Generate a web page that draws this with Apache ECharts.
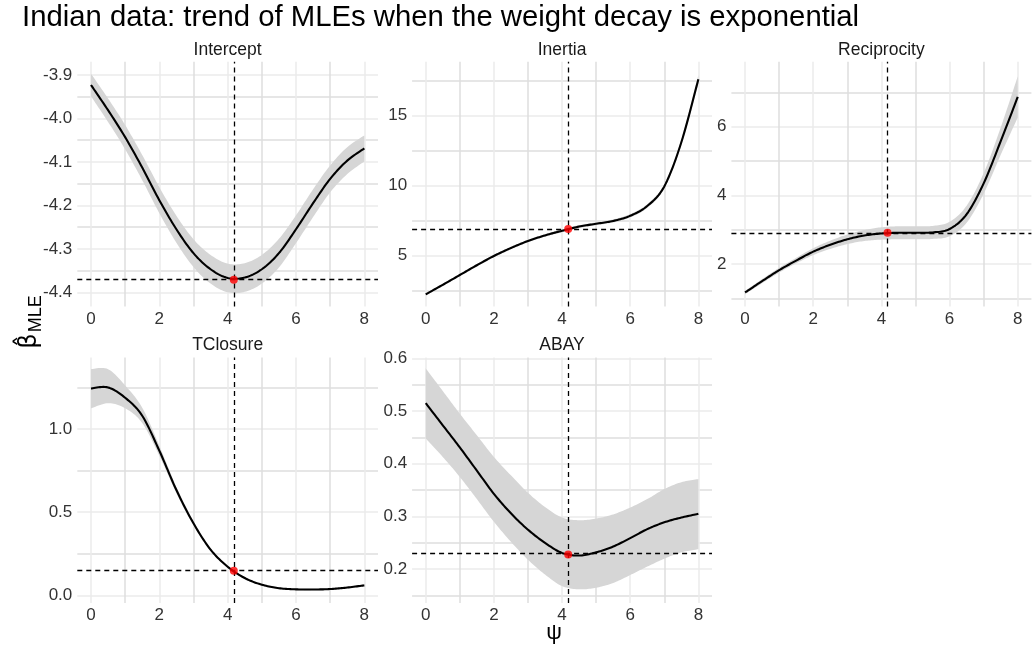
<!DOCTYPE html>
<html><head><meta charset="utf-8">
<script src="https://cdn.jsdelivr.net/npm/echarts@6/dist/echarts.min.js"></script>
<style>html,body{margin:0;padding:0;background:#fff}#c{width:1032px;height:646px}</style>
</head><body><div id="c"></div>
<script>
// ---------- data ----------
const titleText = 'Indian data: trend of MLEs when the weight decay is exponential';
const panelNames = ['Intercept', 'Inertia', 'Reciprocity', 'TClosure', 'ABAY'];
const psi = [0, 0.5, 1, 1.5, 2, 2.5, 3, 3.5, 4, 4.5, 5, 5.5, 6, 6.5, 7, 7.5, 8];
const psiHat = 4.18;
const mleHat = [-4.371, 6.91, 2.91, 0.148, 0.228];

const interceptFit   = [-3.923, -3.981, -4.043, -4.113, -4.188, -4.255, -4.310, -4.347, -4.367, -4.366, -4.347, -4.310, -4.255, -4.195, -4.139, -4.097, -4.069];
const interceptLower = [-3.949, -4.008, -4.071, -4.142, -4.218, -4.286, -4.342, -4.380, -4.400, -4.399, -4.380, -4.343, -4.287, -4.227, -4.170, -4.128, -4.099];
const interceptUpper = [-3.897, -3.954, -4.015, -4.084, -4.158, -4.224, -4.278, -4.314, -4.334, -4.333, -4.314, -4.277, -4.223, -4.163, -4.108, -4.066, -4.039];

const inertiaFit   = [2.24, 2.92, 3.62, 4.32, 4.98, 5.55, 6.05, 6.45, 6.78, 7.08, 7.28, 7.48, 7.85, 8.55, 9.95, 13.1, 17.6];
const inertiaLower = [2.16, 2.84, 3.54, 4.23, 4.89, 5.46, 5.96, 6.36, 6.68, 6.98, 7.18, 7.37, 7.73, 8.42, 9.80, 12.9, 17.3];
const inertiaUpper = [2.32, 3.00, 3.70, 4.41, 5.07, 5.64, 6.14, 6.54, 6.88, 7.18, 7.38, 7.59, 7.97, 8.68, 10.10, 13.3, 17.9];

const reciprocityFit   = [1.17, 1.50, 1.82, 2.10, 2.36, 2.56, 2.72, 2.83, 2.89, 2.91, 2.91, 2.92, 3.02, 3.45, 4.35, 5.58, 6.87];
const reciprocityLower = [1.12, 1.44, 1.75, 2.02, 2.26, 2.44, 2.58, 2.67, 2.71, 2.72, 2.72, 2.73, 2.81, 3.20, 4.05, 5.18, 6.27];
const reciprocityUpper = [1.22, 1.56, 1.89, 2.18, 2.46, 2.68, 2.86, 2.99, 3.07, 3.10, 3.10, 3.11, 3.23, 3.70, 4.65, 5.98, 7.47];

const tclosureFit   = [1.244, 1.250, 1.188, 1.080, 0.870, 0.633, 0.433, 0.275, 0.172, 0.104, 0.064, 0.043, 0.036, 0.035, 0.038, 0.047, 0.060];
const tclosureLower = [1.124, 1.155, 1.125, 1.036, 0.840, 0.615, 0.421, 0.267, 0.166, 0.099, 0.059, 0.038, 0.031, 0.030, 0.033, 0.042, 0.055];
const tclosureUpper = [1.360, 1.360, 1.262, 1.128, 0.900, 0.652, 0.445, 0.283, 0.178, 0.109, 0.069, 0.048, 0.041, 0.040, 0.043, 0.052, 0.065];

const abayFit   = [0.515, 0.473, 0.431, 0.387, 0.343, 0.306, 0.275, 0.250, 0.231, 0.226, 0.232, 0.243, 0.259, 0.276, 0.289, 0.298, 0.305];
const abayLower = [0.448, 0.413, 0.375, 0.333, 0.290, 0.252, 0.218, 0.190, 0.168, 0.162, 0.165, 0.174, 0.189, 0.205, 0.220, 0.232, 0.238];
const abayUpper = [0.581, 0.538, 0.495, 0.454, 0.413, 0.378, 0.345, 0.318, 0.298, 0.293, 0.296, 0.304, 0.317, 0.333, 0.352, 0.365, 0.371];

const xMajorTicks = [0, 2, 4, 6, 8];
const xMinorTicks = [1, 3, 5, 7];
const yMajorTicks = [
  [-4.4, -4.3, -4.2, -4.1, -4.0, -3.9],
  [5, 10, 15],
  [2, 4, 6],
  [0, 0.5, 1.0],
  [0.2, 0.3, 0.4, 0.5, 0.6]
];
const yMinorTicks = [
  [-4.35, -4.25, -4.15, -4.05, -3.95],
  [2.5, 7.5, 12.5, 17.5],
  [1, 3, 5, 7],
  [0.25, 0.75, 1.25],
  [0.15, 0.25, 0.35, 0.45, 0.55]
];
const yLabelDecimals = [1, 0, 0, 1, 1];

// ---------- layout ----------
const xRange = [-0.4, 8.4];
const yRanges = [[-4.4327, -3.8694], [1.371, 18.857], [0.762, 7.894], [-0.046, 1.43], [0.136, 0.6015]];
const layout = [
  {left: 77.3, top: 61.7, width: 300.7, height: 244.8},
  {left: 412.1, top: 61.7, width: 299.9, height: 244.8},
  {left: 731.4, top: 61.7, width: 300, height: 244.8},
  {left: 77.3, top: 357.5, width: 300.7, height: 245.5},
  {left: 412.1, top: 357.5, width: 299.9, height: 245.5}
];

const fits = [interceptFit, inertiaFit, reciprocityFit, tclosureFit, abayFit];
const lowers = [interceptLower, inertiaLower, reciprocityLower, tclosureLower, abayLower];
const uppers = [interceptUpper, inertiaUpper, reciprocityUpper, tclosureUpper, abayUpper];

const FONT = '"Liberation Sans", Arial, Helvetica, sans-serif';
const majorColor = '#ebebeb', minorColor = '#dedede';
const tickColor = '#333333';

// Catmull-Rom smoothing of already-projected pixel points (rendering only)
function smoothPixels(p) {
  const out = [], n = p.length, T = 1 / 6, STEPS = 12;
  for (let k = 0; k < n - 1; k++) {
    const p0 = p[Math.max(k - 1, 0)], p1 = p[k], p2 = p[k + 1], p3 = p[Math.min(k + 2, n - 1)];
    const c1 = [p1[0] + (p2[0] - p0[0]) * T, p1[1] + (p2[1] - p0[1]) * T];
    const c2 = [p2[0] - (p3[0] - p1[0]) * T, p2[1] - (p3[1] - p1[1]) * T];
    for (let s = 0; s < STEPS; s++) {
      const t = s / STEPS, u = 1 - t;
      const a = u * u * u, b = 3 * u * u * t, c = 3 * u * t * t, d = t * t * t;
      out.push([a * p1[0] + b * c1[0] + c * c2[0] + d * p2[0], a * p1[1] + b * c1[1] + c * c2[1] + d * p2[1]]);
    }
  }
  out.push(p[n - 1]);
  return out;
}

const grids = [], xAxes = [], yAxes = [], series = [], graphics = [];

layout.forEach((g, i) => {
  grids.push(Object.assign({show: false, outerBoundsMode: 'none'}, g));
  const axisCommon = {type: 'value', gridIndex: i, axisLine: {show: false}};
  xAxes.push(Object.assign({}, axisCommon, {
    min: xRange[0], max: xRange[1], position: 'bottom',
    axisTick: {show: false, customValues: xMajorTicks},
    axisLabel: {customValues: xMajorTicks, margin: 4, fontSize: 17, color: tickColor, fontFamily: FONT, formatter: v => String(v)},
    splitLine: {show: true, lineStyle: {color: majorColor, width: 1.5}}
  }));
  xAxes.push(Object.assign({}, axisCommon, {
    min: xRange[0], max: xRange[1], position: 'top',
    axisTick: {show: false, customValues: xMinorTicks},
    axisLabel: {show: false, customValues: xMinorTicks},
    splitLine: {show: true, lineStyle: {color: minorColor, width: 1.5}}
  }));
  const dec = yLabelDecimals[i];
  yAxes.push(Object.assign({}, axisCommon, {
    min: yRanges[i][0], max: yRanges[i][1], position: 'left',
    axisTick: {show: false, customValues: yMajorTicks[i]},
    axisLabel: {customValues: yMajorTicks[i], margin: 5, fontSize: 17, color: tickColor, fontFamily: FONT,
      formatter: v => Number(v).toFixed(dec)},
    splitLine: {show: true, lineStyle: {color: majorColor, width: 1.5}}
  }));
  yAxes.push(Object.assign({}, axisCommon, {
    min: yRanges[i][0], max: yRanges[i][1], position: 'right',
    axisTick: {show: false, customValues: yMinorTicks[i]},
    axisLabel: {show: false, customValues: yMinorTicks[i]},
    splitLine: {show: true, lineStyle: {color: minorColor, width: 1.5}}
  }));

  const xi = 2 * i, yi = 2 * i;
  const rows = psi.map((x, k) => [x, lowers[i][k], uppers[i][k], fits[i][k]]);
  // confidence ribbon
  series.push({
    type: 'custom', xAxisIndex: xi, yAxisIndex: yi, data: rows, silent: true, z: 2,
    encode: {x: 0, y: [1, 2]},
    renderItem: (params, api) => {
      if (params.dataIndex !== 0) return null;
      const up = smoothPixels(rows.map(r => api.coord([r[0], r[2]])));
      const lo = smoothPixels(rows.map(r => api.coord([r[0], r[1]])));
      return {
        type: 'polygon',
        shape: {points: up.concat(lo.reverse())},
        style: {fill: '#d6d6d6', stroke: null}
      };
    }
  });
  // fitted MLE curve
  series.push({
    type: 'custom', xAxisIndex: xi, yAxisIndex: yi, data: rows, silent: true, z: 3,
    encode: {x: 0, y: 3},
    renderItem: (params, api) => {
      if (params.dataIndex !== 0) return null;
      const pts = smoothPixels(rows.map(r => api.coord([r[0], r[3]])));
      return {
        type: 'polyline',
        shape: {points: pts},
        style: {stroke: '#000', lineWidth: 2.1, fill: null, lineJoin: 'round', lineCap: 'butt'}
      };
    }
  });
  // selected psi and its MLE
  series.push({
    type: 'scatter', xAxisIndex: xi, yAxisIndex: yi,
    data: [[psiHat, mleHat[i]]], symbolSize: 8, itemStyle: {color: '#ff0000'}, silent: true, z: 6,
    markLine: {
      silent: true, symbol: ['none', 'none'], label: {show: false},
      lineStyle: {color: '#000', type: [5, 4], width: 1.3},
      emphasis: {disabled: true},
      data: [{xAxis: psiHat}, {yAxis: mleHat[i]}]
    }
  });

  graphics.push({
    type: 'text', silent: true,
    style: {
      x: g.left + g.width / 2, y: i < 3 ? 50.5 : 345.5, text: panelNames[i],
      fontSize: 17.5, fontFamily: FONT, fill: '#1a1a1a', align: 'center', verticalAlign: 'middle'
    }
  });
});

graphics.push({
  type: 'text', silent: true,
  style: {x: 22, y: 18, text: titleText, fontSize: 29.3, fontFamily: FONT, fill: '#000', align: 'left', verticalAlign: 'middle'}
});
graphics.push({
  type: 'text', silent: true,
  style: {x: 554, y: 633, text: 'ψ', fontSize: 22, fontFamily: FONT, fill: '#000', align: 'center', verticalAlign: 'middle'}
});
graphics.push({
  type: 'text', silent: true, x: 30, y: 322, rotation: Math.PI / 2,
  style: {
    text: '{b|β̂}{s|MLE}', align: 'center', verticalAlign: 'middle', fill: '#000',
    rich: {
      b: {fontSize: 24, fontFamily: '"DejaVu Sans", sans-serif', fill: '#000', lineHeight: 30, verticalAlign: 'middle'},
      s: {fontSize: 18, fontFamily: FONT, fill: '#000', verticalAlign: 'bottom', padding: [10, 0, 0, 1]}
    }
  }
});

const chart = echarts.init(document.getElementById('c'), null, {renderer: 'canvas'});
chart.setOption({
  animation: false,
  backgroundColor: '#ffffff',
  grid: grids,
  xAxis: xAxes,
  yAxis: yAxes,
  series: series,
  graphic: graphics
});
</script>
</body></html>
